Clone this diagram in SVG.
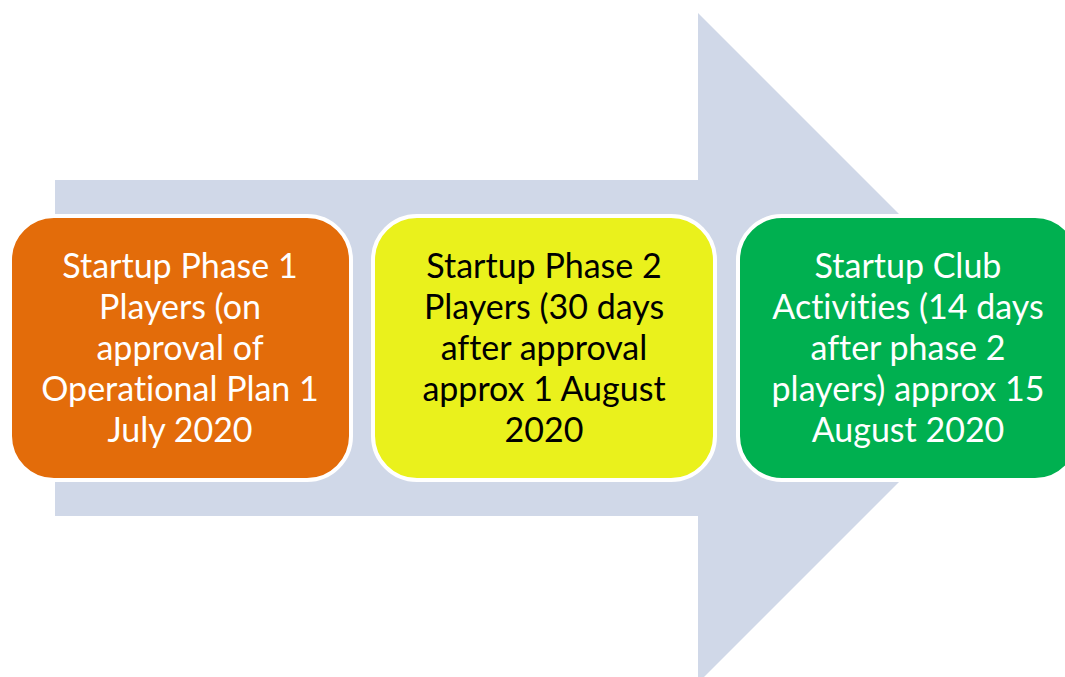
<svg xmlns="http://www.w3.org/2000/svg" width="1065" height="677" viewBox="0 0 1065 677">
<style>
.box{stroke:#ffffff;stroke-width:4}
.t{font-family:Lato,"Liberation Sans",sans-serif;font-size:34px;text-anchor:middle;font-variant-ligatures:none}
.w{fill:#ffffff}
.k{fill:#000000}
</style>
<rect width="1065" height="677" fill="#ffffff"/>
<g id="arrow">
<polygon points="55,180 698,180 698,13 1033,348 698,683 698,516 55,516" fill="#D0D8E8"/>
</g>
<g id="node1">
<rect class="box" x="10" y="216" width="341" height="264" rx="44" fill="#E36C0A"/>
<text class="t w"><tspan x="180" y="278">Startup Phase 1</tspan><tspan x="180" y="319">Players (on</tspan><tspan x="180" y="360">approval of</tspan><tspan x="180" y="401">Operational Plan 1</tspan><tspan x="180" y="442">July 2020</tspan></text>
</g>
<g id="node2">
<rect class="box" x="373" y="216" width="342" height="264" rx="44" fill="#EAF11C"/>
<text class="t k"><tspan x="544" y="278">Startup Phase 2</tspan><tspan x="544" y="319">Players (30 days</tspan><tspan x="544" y="360">after approval</tspan><tspan x="544" y="401">approx 1 August</tspan><tspan x="544" y="442">2020</tspan></text>
</g>
<g id="node3">
<rect class="box" x="738" y="216" width="341" height="264" rx="44" fill="#00B050"/>
<text class="t w"><tspan x="908" y="278">Startup Club</tspan><tspan x="908" y="319">Activities (14 days</tspan><tspan x="908" y="360">after phase 2</tspan><tspan x="908" y="401">players) approx 15</tspan><tspan x="908" y="442">August 2020</tspan></text>
</g>
<g id="connectors"></g>
</svg>
